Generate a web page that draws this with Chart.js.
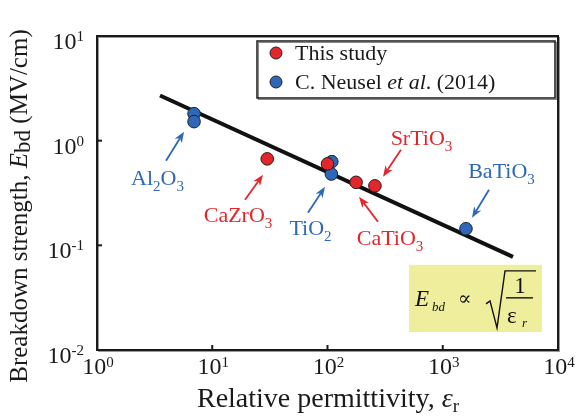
<!DOCTYPE html>
<html>
<head>
<meta charset="utf-8">
<script src="https://cdn.jsdelivr.net/npm/chart.js@4.4.1/dist/chart.umd.min.js"></script>
<style>
html,body{margin:0;padding:0;background:#fff;}
#wrap{width:577px;height:416px;position:relative;}
</style>
</head>
<body>
<div id="wrap"><canvas id="c" width="577" height="416"></canvas></div>
<script>
// ---- data ----
const thisStudyX = [30, 100, 177, 258];
const thisStudyY = [0.67, 0.60, 0.40, 0.37];
const neuselX = [6.95, 6.95, 109, 108, 1590];
const neuselY = [1.81, 1.52, 0.63, 0.48, 0.144];
const fitX = [3.52, 4070];
const fitY = [2.70, 0.0776];
const xTickValues = [1, 10, 100, 1000, 10000];
const xTickExponents = ['0', '1', '2', '3', '4'];
const yTickValues = [10, 1, 0.1, 0.01];
const yTickExponents = ['1', '0', '-1', '-2'];
const legendLabels = ['This study', 'C. Neusel et al. (2014)'];
// annotation labels: [parts], label centre x, baseline y, arrow tail x,y, arrow head x,y (data units)
const annotLabels = [
  {parts:[['Al',0],['2',1],['O',0],['3',1]], color:'blue', x:3.35, y:0.379, ax:3.97, ay:0.644, hx:5.69, hy:1.219},
  {parts:[['CaZrO',0],['3',1]], color:'red', x:16.73, y:0.168, ax:19.24, ay:0.2725, hx:27.56, hy:0.4727},
  {parts:[['TiO',0],['2',1]], color:'blue', x:71.2, y:0.126, ax:67.7, ay:0.2047, hx:95.1, hy:0.363},
  {parts:[['SrTiO',0],['3',1]], color:'red', x:654, y:0.916, ax:434, ay:0.820, hx:303, hy:0.452},
  {parts:[['CaTiO',0],['3',1]], color:'red', x:348.6, y:0.1011, ax:274, ay:0.1679, hx:187.7, hy:0.2911},
  {parts:[['BaTiO',0],['3',1]], color:'blue', x:3234, y:0.4425, ax:2520, ay:0.3397, hx:1794, hy:0.1834}
];
const formulaBox = {x1:509.6, x2:7264, y1:0.0651, y2:0.01487};

const RED = '#e3262b', BLUE = '#2f67b8';
const COLORS = {red: RED, blue: BLUE};
const SERIF = '"Liberation Serif", "DejaVu Serif", serif';

function pts(xs, ys){ return xs.map((x,i)=>({x:x, y:ys[i]})); }

function drawParts(ctx, parts, cx, baseline, size, subSize, subDy){
  let w = 0;
  parts.forEach(p=>{ ctx.font = (p[1]? subSize : size) + 'px ' + SERIF; w += ctx.measureText(p[0]).width; });
  let x = cx - w/2;
  ctx.textAlign = 'left'; ctx.textBaseline = 'alphabetic';
  parts.forEach(p=>{
    ctx.font = (p[1]? subSize : size) + 'px ' + SERIF;
    ctx.fillText(p[0], x, baseline + (p[1]? subDy : 0));
    x += ctx.measureText(p[0]).width;
  });
}

function arrow(ctx, x1, y1, x2, y2, color){
  const ang = Math.atan2(y2-y1, x2-x1);
  const L = 11, W = 4.2;
  ctx.save();
  ctx.strokeStyle = color; ctx.fillStyle = color; ctx.lineWidth = 1.8;
  ctx.beginPath();
  ctx.moveTo(x1, y1);
  ctx.lineTo(x2 - Math.cos(ang)*L*0.7, y2 - Math.sin(ang)*L*0.7);
  ctx.stroke();
  ctx.translate(x2, y2); ctx.rotate(ang);
  ctx.beginPath();
  ctx.moveTo(0,0);
  ctx.lineTo(-L, -W);
  ctx.lineTo(-L*0.7, 0);
  ctx.lineTo(-L, W);
  ctx.closePath();
  ctx.fill();
  ctx.restore();
}

const decor = {
  id:'decor',
  beforeDatasetsDraw(chart){
    const ctx = chart.ctx, xs = chart.scales.x, ys = chart.scales.y;
    const l = xs.getPixelForValue(formulaBox.x1), r = xs.getPixelForValue(formulaBox.x2);
    const t = ys.getPixelForValue(formulaBox.y1), b = ys.getPixelForValue(formulaBox.y2);
    ctx.save();
    ctx.fillStyle = '#eeee9c';
    ctx.fillRect(l, t, r-l, b-t);
    ctx.fillStyle = '#111'; ctx.strokeStyle = '#111';
    ctx.textAlign = 'left'; ctx.textBaseline = 'alphabetic';
    ctx.font = 'italic 23px ' + SERIF; ctx.fillText('E', l+6, t+41);
    ctx.font = 'italic 13px ' + SERIF; ctx.fillText('bd', l+23, t+46);
    ctx.font = '20px ' + SERIF; ctx.fillText('\u221D', l+49, t+40);
    ctx.lineWidth = 1.4;
    ctx.beginPath();
    ctx.moveTo(l+77, t+39); ctx.lineTo(l+81, t+36); ctx.lineTo(l+88, t+63);
    ctx.lineTo(l+96, t+6); ctx.lineTo(l+127, t+6);
    ctx.stroke();
    ctx.beginPath(); ctx.moveTo(l+97, t+33); ctx.lineTo(l+124, t+33); ctx.stroke();
    ctx.textAlign = 'center';
    ctx.font = '23px ' + SERIF; ctx.fillText('1', l+111, t+28);
    ctx.textAlign = 'left';
    ctx.font = '23px ' + SERIF; ctx.fillText('\u03B5', l+98, t+58);
    ctx.font = 'italic 13px ' + SERIF; ctx.fillText('r', l+113, t+62);
    ctx.restore();
  },
  afterDraw(chart){
    const ctx = chart.ctx, ca = chart.chartArea, xs = chart.scales.x, ys = chart.scales.y;
    ctx.save();
    // frame
    ctx.strokeStyle = '#999'; ctx.lineWidth = 1;
    ctx.strokeRect(ca.left+1.5, ca.top+1.5, ca.right-ca.left, ca.bottom-ca.top);
    ctx.strokeStyle = '#1a1a1a'; ctx.lineWidth = 2;
    ctx.strokeRect(ca.left, ca.top, ca.right-ca.left, ca.bottom-ca.top);
    // ticks
    ctx.lineWidth = 2;
    xTickValues.forEach(v=>{
      const px = xs.getPixelForValue(v);
      ctx.beginPath(); ctx.moveTo(px, ca.bottom); ctx.lineTo(px, ca.bottom-5); ctx.stroke();
    });
    yTickValues.forEach(v=>{
      const py = ys.getPixelForValue(v);
      ctx.beginPath(); ctx.moveTo(ca.left, py); ctx.lineTo(ca.left+5, py); ctx.stroke();
    });
    // tick labels
    ctx.fillStyle = '#1a1a1a';
    ctx.textBaseline = 'alphabetic'; ctx.textAlign = 'left';
    xTickValues.forEach((v,i)=>{
      const px = xs.getPixelForValue(v);
      ctx.font = '24px ' + SERIF; const w1 = ctx.measureText('10').width;
      ctx.font = '15px ' + SERIF; const w2 = ctx.measureText(xTickExponents[i]).width;
      const x0 = px - (w1+w2)/2 + 1;
      ctx.font = '24px ' + SERIF; ctx.fillText('10', x0, ca.bottom+24);
      ctx.font = '15px ' + SERIF; ctx.fillText(xTickExponents[i], x0+w1, ca.bottom+17);
    });
    yTickValues.forEach((v,i)=>{
      const py = ys.getPixelForValue(v);
      ctx.font = '24px ' + SERIF; const w1 = ctx.measureText('10').width;
      ctx.font = '15px ' + SERIF; const w2 = ctx.measureText(yTickExponents[i]).width;
      const x0 = ca.left - 13 - w1 - w2;
      ctx.font = '24px ' + SERIF; ctx.fillText('10', x0, py+13);
      ctx.font = '15px ' + SERIF; ctx.fillText(yTickExponents[i], x0+w1, py+5);
    });
    // x title
    {
      const segs = [['Relative permittivity, ', '28px ', 0], ['\u03B5', 'italic 28px ', 0], ['r', '19px ', 5]];
      let w = 0; segs.forEach(s=>{ ctx.font = s[1]+SERIF; w += ctx.measureText(s[0]).width; });
      let x = 328 - w/2;
      const base = 407;
      segs.forEach(s=>{ ctx.font = s[1]+SERIF; ctx.fillText(s[0], x, base + s[2]); x += ctx.measureText(s[0]).width; });
    }
    // y title
    {
      ctx.save();
      ctx.translate(27, 206);
      ctx.rotate(-Math.PI/2);
      const segs = [['Breakdown strength, ', '25px ', 0], ['E', 'italic 25px ', 0], ['bd', '23px ', 3], [' (MV/cm)', '25px ', 0]];
      let w = 0; segs.forEach(s=>{ ctx.font = s[1]+SERIF; w += ctx.measureText(s[0]).width; });
      let x = -w/2;
      segs.forEach(s=>{ ctx.font = s[1]+SERIF; ctx.fillText(s[0], x, s[2]); x += ctx.measureText(s[0]).width; });
      ctx.restore();
    }
    // legend
    {
      const lx = ca.left + 160, ty = ca.top + 5, lw = 298, lh = 57;
      ctx.fillStyle = '#fff';
      ctx.fillRect(lx, ty, lw, lh);
      ctx.strokeStyle = '#888'; ctx.lineWidth = 1;
      ctx.strokeRect(lx+1.5, ty+1.5, lw, lh);
      ctx.strokeStyle = '#1a1a1a'; ctx.lineWidth = 1.5;
      ctx.strokeRect(lx, ty, lw, lh);
      const cols = [RED, BLUE];
      legendLabels.forEach((lab,i)=>{
        const cy = ty + 12 + i*29;
        ctx.beginPath(); ctx.arc(lx+19, cy, 6, 0, Math.PI*2);
        ctx.fillStyle = cols[i]; ctx.fill();
        ctx.strokeStyle = '#222'; ctx.lineWidth = 1; ctx.stroke();
        ctx.fillStyle = '#1a1a1a'; ctx.textBaseline = 'middle'; ctx.textAlign = 'left';
        if (i === 0) {
          ctx.font = '22px ' + SERIF; ctx.fillText(lab, lx+38, cy+1);
        } else {
          let x = lx+38;
          const segs = [['C. Neusel ', '22px '], ['et al', 'italic 22px '], ['. (2014)', '22px ']];
          segs.forEach(s=>{ ctx.font = s[1]+SERIF; ctx.fillText(s[0], x, cy+1); x += ctx.measureText(s[0]).width; });
        }
      });
    }
    // annotations
    annotLabels.forEach(a=>{
      const c = COLORS[a.color];
      ctx.fillStyle = c;
      drawParts(ctx, a.parts, xs.getPixelForValue(a.x), ys.getPixelForValue(a.y), 22, 15, 6);
      arrow(ctx, xs.getPixelForValue(a.ax), ys.getPixelForValue(a.ay), xs.getPixelForValue(a.hx), ys.getPixelForValue(a.hy), c);
    });
    ctx.restore();
  }
};

new Chart(document.getElementById('c'), {
  type:'scatter',
  data:{
    datasets:[
      {label:legendLabels[0], data:pts(thisStudyX, thisStudyY), backgroundColor:RED, borderColor:'#2a1a1a', borderWidth:1, pointRadius:6.3, pointHoverRadius:6.3},
      {label:legendLabels[1], data:pts(neuselX, neuselY), backgroundColor:BLUE, borderColor:'#1a2230', borderWidth:1, pointRadius:6.3, pointHoverRadius:6.3},
      {type:'line', label:'fit', data:pts(fitX, fitY), borderColor:'#111', borderWidth:4, pointRadius:0, fill:false, borderCapStyle:'butt'}
    ]
  },
  options:{
    responsive:false,
    animation:false,
    events:[],
    layout:{padding:{left:97, top:36, right:19, bottom:66}},
    plugins:{legend:{display:false}, tooltip:{enabled:false}},
    scales:{
      x:{type:'logarithmic', min:1, max:10000, display:false},
      y:{type:'logarithmic', min:0.01, max:10, display:false}
    }
  },
  plugins:[decor]
});
</script>
</body>
</html>
